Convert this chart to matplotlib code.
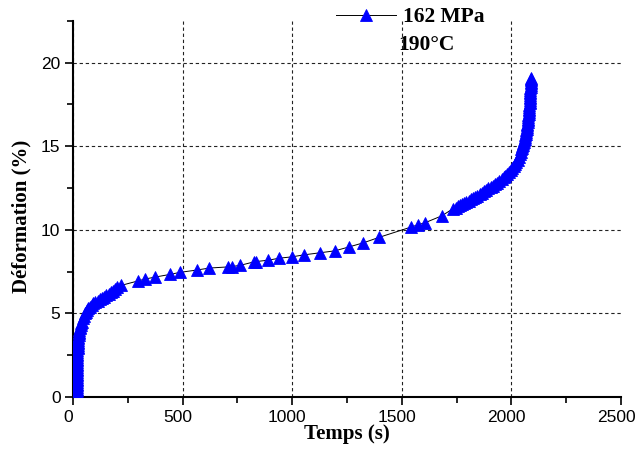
import matplotlib
matplotlib.use("Agg")
import matplotlib.pyplot as plt
from matplotlib.ticker import MultipleLocator
from matplotlib.transforms import ScaledTranslation

# ---- data ----
# primary creep (dense)
t_primary = [18, 18, 18, 18, 18, 18, 18, 18, 18, 18, 18, 18, 18, 18, 18, 18, 18, 18,
             18, 18, 18, 19, 19, 19, 19, 19, 20, 20, 20, 21, 21, 22, 22, 23, 23, 24,
             25, 26, 27, 28, 29, 31, 33, 35, 37, 40, 44, 48, 53, 58, 64, 70, 77, 85,
             93, 102, 112, 122, 132, 142, 152, 162, 172, 182, 192, 202]
e_primary = [0.0, 0.1, 0.2, 0.3, 0.4, 0.5, 0.6, 0.7, 0.8, 0.9, 1.0, 1.1, 1.2, 1.3,
             1.4, 1.5, 1.6, 1.7, 1.8, 1.9, 2.0, 2.1, 2.2, 2.3, 2.4, 2.5, 2.6, 2.7,
             2.8, 2.9, 3.0, 3.1, 3.2, 3.3, 3.4, 3.5, 3.6, 3.7, 3.8, 3.9, 4.0, 4.1,
             4.2, 4.3, 4.4, 4.5, 4.75, 4.87, 5.0, 5.1, 5.2, 5.3, 5.4, 5.5,
             5.6, 5.68, 5.76, 5.84, 5.92, 6.0, 6.08, 6.17, 6.26, 6.35, 6.45, 6.55]
# secondary creep (sparse)
t_secondary = [219, 298, 328, 374, 443, 487, 564, 622, 709, 724, 762, 826, 835, 891,
               941, 999, 1054, 1125, 1195, 1261, 1325, 1395]
e_secondary = [6.67, 6.95, 7.05, 7.17, 7.33, 7.45, 7.59, 7.71, 7.78, 7.80, 7.87, 8.08,
               8.10, 8.18, 8.30, 8.38, 8.50, 8.62, 8.74, 8.98, 9.22, 9.54]
# tertiary creep
t_tertiary = [1540, 1575, 1606, 1682, 1735, 1745, 1755, 1765, 1775, 1785, 1795, 1805,
              1815, 1825, 1835, 1845, 1855, 1865, 1875, 1885, 1895, 1905, 1915, 1925,
              1935, 1945, 1955, 1964, 1973, 1982, 1990, 1998, 2005, 2011, 2017, 2023,
              2028, 2033, 2038, 2042, 2046, 2048, 2050, 2052, 2054, 2056, 2058, 2060,
              2062, 2064, 2065, 2067, 2068, 2070, 2071, 2072, 2073, 2074, 2075, 2076,
              2077, 2078, 2079, 2080, 2080, 2081, 2082, 2082, 2083, 2083, 2084, 2084,
              2085, 2085, 2086, 2086, 2087, 2087, 2088, 2088, 2088, 2088, 2089, 2089,
              2089]
e_tertiary = [10.15, 10.30, 10.42, 10.83, 11.27, 11.33, 11.40, 11.47, 11.54, 11.60,
              11.67, 11.74, 11.82, 11.89, 11.95, 12.03, 12.12, 12.22, 12.30, 12.39,
              12.47, 12.56, 12.64, 12.73, 12.82, 12.92, 13.02, 13.13, 13.24, 13.36,
              13.47, 13.60, 13.72, 13.84, 13.96, 14.08, 14.20, 14.34, 14.50, 14.65,
              14.82, 14.91, 15.00, 15.09, 15.18, 15.27, 15.36, 15.45, 15.55, 15.65,
              15.75, 15.85, 15.95, 16.05, 16.15, 16.25, 16.35, 16.45, 16.55, 16.65,
              16.75, 16.85, 16.95, 17.05, 17.15, 17.25, 17.35, 17.45, 17.55, 17.65,
              17.75, 17.85, 17.95, 18.05, 18.15, 18.25, 18.35, 18.45, 18.55, 18.65,
              18.75, 18.85, 18.95, 19.00, 19.05]

temps = t_primary + t_secondary + t_tertiary
deformation = e_primary + e_secondary + e_tertiary

series_label = "162 MPa"
temperature_label = "190°C"
x_ticks = [0, 500, 1000, 1500, 2000, 2500]
y_ticks = [0, 5, 10, 15, 20]

# ---- figure ----
W, H = 637, 450
fig = plt.figure(figsize=(W / 100, H / 100), dpi=100)
ax = fig.add_axes([73 / W, 1 - 397 / H, 548 / W, (397 - 20.7) / H])

line, = ax.plot(temps, deformation, color="black", lw=0.7,
                marker="^", markersize=8.5, markerfacecolor="#0000ff",
                markeredgecolor="#0000ff", markeredgewidth=0.6,
                label=series_label, zorder=3)

ax.set_xlim(0, 2500)
ax.set_ylim(0, 22.5)
ax.set_xticks(x_ticks)
ax.set_yticks(y_ticks)
ax.xaxis.set_minor_locator(MultipleLocator(250))
ax.yaxis.set_minor_locator(MultipleLocator(2.5))

for s in ["top", "right"]:
    ax.spines[s].set_visible(False)
for s in ["left", "bottom"]:
    ax.spines[s].set_linewidth(1.5)

ax.tick_params(which="major", direction="out", length=6, width=1.2,
               labelsize=12.5, pad=3)
ax.tick_params(which="minor", direction="out", length=4, width=1.2)
for lab in ax.get_xticklabels() + ax.get_yticklabels():
    lab.set_family("Liberation Sans")

# shift x tick labels slightly left as in reference
offset = ScaledTranslation(-5 / 100, 0, fig.dpi_scale_trans)
for lab in ax.get_xticklabels():
    lab.set_transform(lab.get_transform() + offset)

ax.grid(True, which="major", color="#222222", linestyle=(0, (3, 2.5)), lw=0.8)
ax.set_axisbelow(True)
fig.canvas.draw()
xgl = ax.xaxis.get_gridlines()
xgl[-1].set_visible(False)

serif = "Liberation Serif"
ax.set_xlabel("Temps (s)", fontsize=15, fontweight="bold", family=serif)
ax.set_ylabel("Déformation (%)", fontsize=15, fontweight="bold", family=serif)
ax.xaxis.set_label_coords(0.5, -0.073)
ax.yaxis.set_label_coords(-0.076, 0.48)

leg = ax.legend(handles=[line], loc="upper left",
                bbox_to_anchor=(336 / W, 1 - 7 / H),
                bbox_transform=fig.transFigure, frameon=False,
                borderpad=0, borderaxespad=0, handlelength=2.8,
                handletextpad=0.3, markerscale=1.0,
                prop={"family": serif, "weight": "bold", "size": 15.5})
leg.set_zorder(5)

fig.text(398 / W, 1 - 50 / H, temperature_label, family=serif,
         fontweight="bold", fontsize=15.5, va="baseline", ha="left")

fig.savefig("out.png", dpi=100)
